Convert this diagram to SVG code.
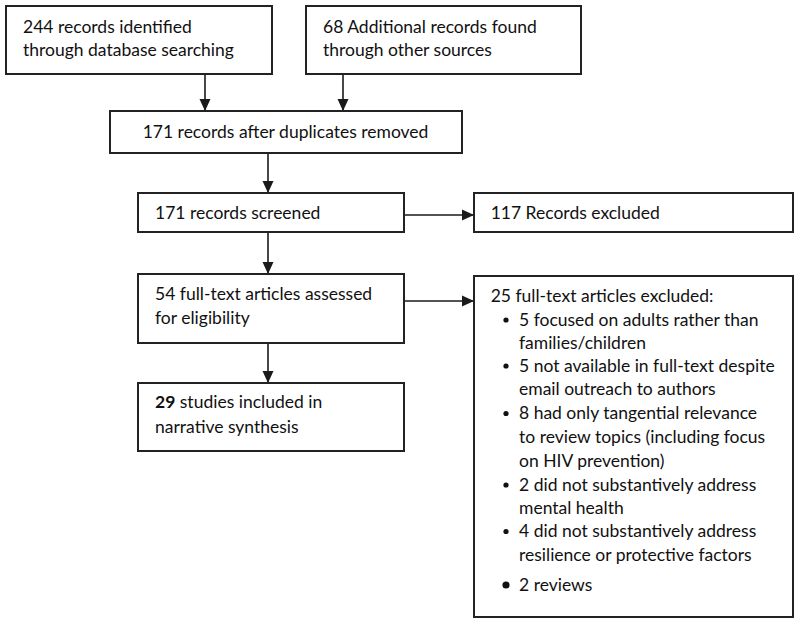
<svg xmlns="http://www.w3.org/2000/svg" width="800" height="625" viewBox="0 0 800 625">
<defs>
<marker id="ah" viewBox="0 0 12 12" refX="12" refY="6" markerWidth="12" markerHeight="12" markerUnits="userSpaceOnUse" orient="auto">
<path d="M0,0.5 L12,6 L0,11.5 Z" fill="#1a1a1a"/>
</marker>
<style>
.box{fill:#fff;stroke:#222;stroke-width:2}
.t{font-family:Lato,"Open Sans","Liberation Sans",sans-serif;font-size:17.5px;fill:#111}
.c{stroke:#1a1a1a;stroke-width:1.6;fill:none;marker-end:url(#ah)}
</style>
</defs>
<rect width="800" height="625" fill="#fff"/>
<g id="connectors">
<line class="c" x1="205" y1="74" x2="205" y2="111"/>
<line class="c" x1="343" y1="74" x2="343" y2="111"/>
<line class="c" x1="268" y1="153" x2="268" y2="193"/>
<line class="c" x1="404" y1="215" x2="474" y2="215"/>
<line class="c" x1="268" y1="232" x2="268" y2="274"/>
<line class="c" x1="404" y1="301" x2="474" y2="301"/>
<line class="c" x1="268" y1="343" x2="268" y2="383"/>
</g>
<g id="n1">
<rect class="box" x="6" y="6" width="266" height="68"/>
<text class="t" x="23" y="33">244 records identified</text>
<text class="t" x="23" y="55.5">through database searching</text>
</g>
<g id="n2">
<rect class="box" x="306" y="6" width="275" height="68"/>
<text class="t" x="323" y="33">68 Additional records found</text>
<text class="t" x="323" y="55.5">through other sources</text>
</g>
<g id="n3">
<rect class="box" x="110" y="111" width="352" height="42"/>
<text class="t" x="142.7" y="138">171 records after duplicates removed</text>
</g>
<g id="n4">
<rect class="box" x="138" y="193" width="266" height="39"/>
<text class="t" x="155" y="219">171 records screened</text>
</g>
<g id="n5">
<rect class="box" x="474" y="193" width="319" height="39"/>
<text class="t" x="490.7" y="219">117 Records excluded</text>
</g>
<g id="n6">
<rect class="box" x="138" y="274" width="266" height="69"/>
<text class="t" x="155" y="300">54 full-text articles assessed</text>
<text class="t" x="155" y="324">for eligibility</text>
</g>
<g id="n7">
<rect class="box" x="474" y="276" width="319" height="341"/>
<text class="t" x="490.7" y="302">25 full-text articles excluded:</text>
<circle cx="506" cy="320" r="2.6" fill="#111"/>
<text class="t" x="519" y="325.7">5 focused on adults rather than</text>
<text class="t" x="519" y="348.5">families/children</text>
<circle cx="506" cy="366" r="2.6" fill="#111"/>
<text class="t" x="519" y="371.7">5 not available in full-text despite</text>
<text class="t" x="519" y="395">email outreach to authors</text>
<circle cx="506" cy="413.5" r="2.6" fill="#111"/>
<text class="t" x="519" y="419">8 had only tangential relevance</text>
<text class="t" x="519" y="443">to review topics (including focus</text>
<text class="t" x="519" y="467">on HIV prevention)</text>
<circle cx="506" cy="485" r="2.6" fill="#111"/>
<text class="t" x="519" y="490.7">2 did not substantively address</text>
<text class="t" x="519" y="513.5">mental health</text>
<circle cx="506" cy="531.5" r="2.6" fill="#111"/>
<text class="t" x="519" y="537">4 did not substantively address</text>
<text class="t" x="519" y="561">resilience or protective factors</text>
<circle cx="506" cy="585" r="3.6" fill="#111"/>
<text class="t" x="519" y="591">2 reviews</text>
</g>
<g id="n8">
<rect class="box" x="138" y="383" width="266" height="68"/>
<text class="t" x="155" y="408"><tspan font-weight="bold">29</tspan> studies included in</text>
<text class="t" x="155" y="432.7">narrative synthesis</text>
</g>
</svg>
